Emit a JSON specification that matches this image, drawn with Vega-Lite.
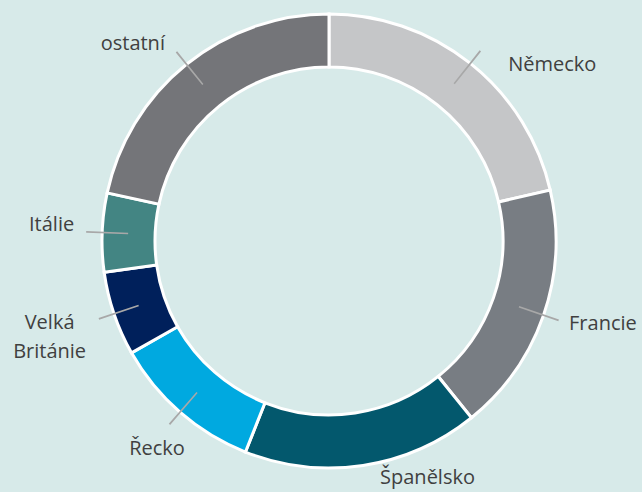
{
  "$schema": "https://vega.github.io/schema/vega-lite/v6.json",
  "width": 626,
  "height": 482,
  "padding": {"left": 16, "top": 0, "right": 0, "bottom": 10},
  "autosize": {"type": "none"},
  "background": "#d7eae9",
  "config": {"view": {"stroke": null}, "text": {"font": "Open Sans", "fontSize": 20, "color": "#404040"}},
  "data": {"values": [
    {"zeme": "Německo", "podil": 21.4, "poradi": 1},
    {"zeme": "Francie", "podil": 17.8, "poradi": 2},
    {"zeme": "Španělsko", "podil": 16.8, "poradi": 3},
    {"zeme": "Řecko", "podil": 10.8, "poradi": 4},
    {"zeme": "Velká Británie", "podil": 6.0, "poradi": 5},
    {"zeme": "Itálie", "podil": 5.6, "poradi": 6},
    {"zeme": "ostatní", "podil": 21.6, "poradi": 7}
  ]},
  "transform": [
    {"stack": "podil", "groupby": [], "sort": [{"field": "poradi"}], "as": ["a0", "a1"]},
    {"calculate": "(datum.a0 + datum.a1) / 2", "as": "stred"},
    {"calculate": "datum.stred - 0.06", "as": "s0"},
    {"calculate": "datum.stred + 0.06", "as": "s1"}
  ],
  "layer": [
    {
      "mark": {"type": "arc", "innerRadius": 174, "outerRadius": 227, "stroke": "white", "strokeWidth": 3},
      "encoding": {
        "theta": {"field": "a0", "type": "quantitative", "stack": null, "scale": {"domain": [0, 100]}},
        "theta2": {"field": "a1"},
        "color": {
          "field": "zeme", "type": "nominal", "legend": null,
          "scale": {
            "domain": ["Německo", "Francie", "Španělsko", "Řecko", "Velká Británie", "Itálie", "ostatní"],
            "range": ["#c5c6c8", "#787d83", "#03586d", "#00a9e0", "#00205b", "#438583", "#747579"]
          }
        }
      }
    },
    {
      "transform": [{"filter": "datum.zeme != 'Španělsko'"}],
      "mark": {"type": "arc", "innerRadius": 201, "outerRadius": 243, "color": "#a8a8a8"},
      "encoding": {
        "theta": {"field": "s0", "type": "quantitative", "stack": null},
        "theta2": {"field": "s1"}
      }
    },
    {
      "transform": [{"filter": "datum.zeme == 'Francie'"}],
      "mark": {"type": "text", "align": "left", "baseline": "middle", "radius": 254},
      "encoding": {"theta": {"field": "stred", "type": "quantitative", "stack": null}, "text": {"field": "zeme"}}
    },
    {
      "transform": [{"filter": "datum.zeme == 'Německo'"}],
      "mark": {"type": "text", "align": "left", "baseline": "middle", "radius": 254, "dx": 21, "dy": 23},
      "encoding": {"theta": {"field": "stred", "type": "quantitative", "stack": null}, "text": {"field": "zeme"}}
    },
    {
      "transform": [{"filter": "datum.zeme == 'ostatní'"}],
      "mark": {"type": "text", "align": "right", "baseline": "middle", "radius": 255, "dx": -4, "dy": 2},
      "encoding": {"theta": {"field": "stred", "type": "quantitative", "stack": null}, "text": {"field": "zeme"}}
    },
    {
      "transform": [{"filter": "datum.zeme == 'Itálie'"}],
      "mark": {"type": "text", "align": "right", "baseline": "middle", "radius": 255, "dy": -6},
      "encoding": {"theta": {"field": "stred", "type": "quantitative", "stack": null}, "text": {"field": "zeme"}}
    },
    {
      "transform": [{"filter": "datum.zeme == 'Řecko'"}],
      "mark": {"type": "text", "align": "center", "baseline": "top", "radius": 262},
      "encoding": {"theta": {"field": "stred", "type": "quantitative", "stack": null}, "text": {"field": "zeme"}}
    },
    {
      "transform": [{"filter": "datum.zeme == 'Velká Británie'"}],
      "mark": {"type": "text", "align": "center", "baseline": "middle", "radius": 295, "dy": -13, "lineBreak": " ", "lineHeight": 29},
      "encoding": {"theta": {"field": "stred", "type": "quantitative", "stack": null}, "text": {"field": "zeme"}}
    },
    {
      "transform": [{"filter": "datum.zeme == 'Španělsko'"}],
      "mark": {"type": "text", "align": "left", "baseline": "middle", "radius": 240, "dx": 15},
      "encoding": {"theta": {"field": "stred", "type": "quantitative", "stack": null}, "text": {"field": "zeme"}}
    }
  ]
}
